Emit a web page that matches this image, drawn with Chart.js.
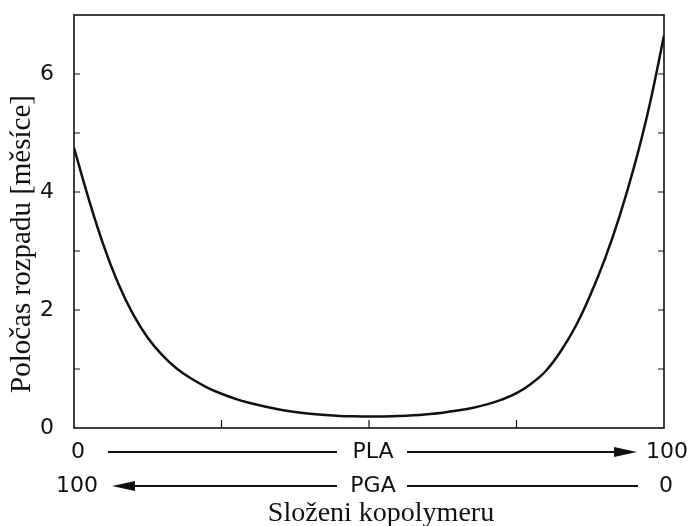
<!DOCTYPE html>
<html>
<head>
<meta charset="utf-8">
<script src="https://cdn.jsdelivr.net/npm/chart.js@4.4.1/dist/chart.umd.min.js"></script>
<style>
    body { margin: 0; background: #fff; }
    #wrap { width: 691px; height: 526px; position: relative; }
</style>
</head>
<body>
<div id="wrap"><canvas id="showGraphHalfLife"></canvas></div>
<script>
// composition of the copolymer (% PLA) and half-life in months
var composition = [0, 2.5, 5, 7.5, 10, 12.5, 15, 17.5, 20, 22.5, 25, 27.5, 30, 32.5, 35, 37.5, 40, 42.5, 45, 47.5, 50,
                   52.5, 55, 57.5, 60, 62.5, 65, 67.5, 70, 72.5, 75, 77.5, 80, 82.5, 85, 87.5, 90, 92.5, 95, 97.5, 100];
var halfLife = [4.75, 3.88, 3.1, 2.45, 1.93, 1.53, 1.23, 1.0, 0.83, 0.69, 0.58, 0.49, 0.42, 0.36, 0.31, 0.27, 0.24, 0.22, 0.205, 0.198, 0.195,
                0.197, 0.203, 0.215, 0.235, 0.26, 0.295, 0.34, 0.4, 0.48, 0.59, 0.75, 0.97, 1.3, 1.72, 2.25, 2.87, 3.6, 4.45, 5.45, 6.65];
var yTickLabels = [0, 2, 4, 6];
var xMinorTicks = [25, 50, 75];
var rowPLA = ['0', 'PLA', '100'];
var rowPGA = ['100', 'PGA', '0'];
var xTitle = 'Složeni kopolymeru';
var yTitle = 'Poločas rozpadu [měsíce]';

var sansFont = '"DejaVu Sans", sans-serif';
var serifFont = '"Liberation Serif", "DejaVu Serif", serif';

var points = composition.map(function (c, i) { return { x: c, y: halfLife[i] }; });

function arrowHead(ctx, x, y, dir) {
    ctx.beginPath();
    ctx.moveTo(x, y);
    ctx.lineTo(x - dir * 23, y - 5);
    ctx.lineTo(x - dir * 23, y + 5);
    ctx.closePath();
    ctx.fill();
}

// frame, inward ticks, axis titles and the PLA / PGA composition rows
var framePlugin = {
    id: 'framePlugin',
    afterDraw: function (chart) {
        var ctx = chart.ctx;
        var a = chart.chartArea;
        var xs = chart.scales.x;
        var ys = chart.scales.y;
        ctx.save();
        ctx.strokeStyle = '#111';
        ctx.fillStyle = '#111';
        ctx.lineWidth = 1.6;
        ctx.strokeRect(a.left, a.top, a.right - a.left, a.bottom - a.top);

        ctx.lineWidth = 1.2;
        ctx.beginPath();
        for (var v = 1; v <= 6; v++) {
            var py = ys.getPixelForValue(v);
            ctx.moveTo(a.left, py); ctx.lineTo(a.left + 6, py);
            ctx.moveTo(a.right, py); ctx.lineTo(a.right - 6, py);
        }
        xMinorTicks.forEach(function (t) {
            var px = xs.getPixelForValue(t);
            ctx.moveTo(px, a.bottom); ctx.lineTo(px, a.bottom - 8);
        });
        ctx.stroke();

        var x0 = xs.getPixelForValue(0);
        var xm = xs.getPixelForValue(50);
        var x1 = xs.getPixelForValue(100);
        var row1 = a.bottom + 24;
        var row2 = a.bottom + 58;

        ctx.font = '22px ' + sansFont;
        ctx.textAlign = 'center';
        ctx.textBaseline = 'middle';
        ctx.fillText(rowPLA[0], x0 + 4, row1);
        ctx.fillText(rowPLA[1], xm + 4, row1);
        ctx.fillText(rowPLA[2], x1 + 3, row1);
        ctx.fillText(rowPGA[0], x0 + 3, row2);
        ctx.fillText(rowPGA[1], xm + 4, row2);
        ctx.fillText(rowPGA[2], x1 + 2, row2);

        ctx.lineWidth = 2;
        ctx.beginPath();
        ctx.moveTo(x0 + 34, row1); ctx.lineTo(xm - 32, row1);
        ctx.moveTo(xm + 38, row1); ctx.lineTo(x1 - 40, row1);
        ctx.moveTo(x0 + 50, row2); ctx.lineTo(xm - 32, row2);
        ctx.moveTo(xm + 38, row2); ctx.lineTo(x1 - 26, row2);
        ctx.stroke();
        arrowHead(ctx, x1 - 27, row1, 1);
        arrowHead(ctx, x0 + 38, row2, -1);

        ctx.font = '28px ' + serifFont;
        ctx.fillText(xTitle, xm + 12, a.bottom + 86);

        ctx.font = '29px ' + serifFont;
        ctx.translate(22, a.top + 229);
        ctx.rotate(-Math.PI / 2);
        ctx.fillText(yTitle, 0, 0);
        ctx.restore();
    }
};

var config = {
    type: 'line',
    data: {
        datasets: [{
            data: points,
            borderColor: '#111',
            borderWidth: 2.5,
            pointRadius: 0,
            fill: false,
            tension: 0.4
        }]
    },
    options: {
        responsive: true,
        maintainAspectRatio: false,
        animation: false,
        layout: { padding: { left: 0, right: 27, top: 15, bottom: 0 } },
        plugins: { legend: { display: false }, tooltip: { enabled: false } },
        scales: {
            x: {
                type: 'linear',
                min: 0,
                max: 100,
                grid: { display: false },
                border: { display: false },
                ticks: { display: false },
                afterFit: function (scale) { scale.height = 98; }
            },
            y: {
                min: 0,
                max: 7,
                grid: { display: false },
                border: { display: false },
                ticks: {
                    stepSize: 1,
                    padding: 12,
                    color: '#111',
                    font: { family: sansFont, size: 22 },
                    callback: function (v) { return yTickLabels.indexOf(v) >= 0 ? String(v) : ''; }
                },
                afterFit: function (scale) {
                    scale.width = 74;
                    scale.paddingTop = 0;
                    scale.paddingBottom = 0;
                }
            }
        }
    },
    plugins: [framePlugin]
};

var myChartHalfLife = new Chart(document.querySelector('#showGraphHalfLife').getContext('2d'), config);
</script>
</body>
</html>
